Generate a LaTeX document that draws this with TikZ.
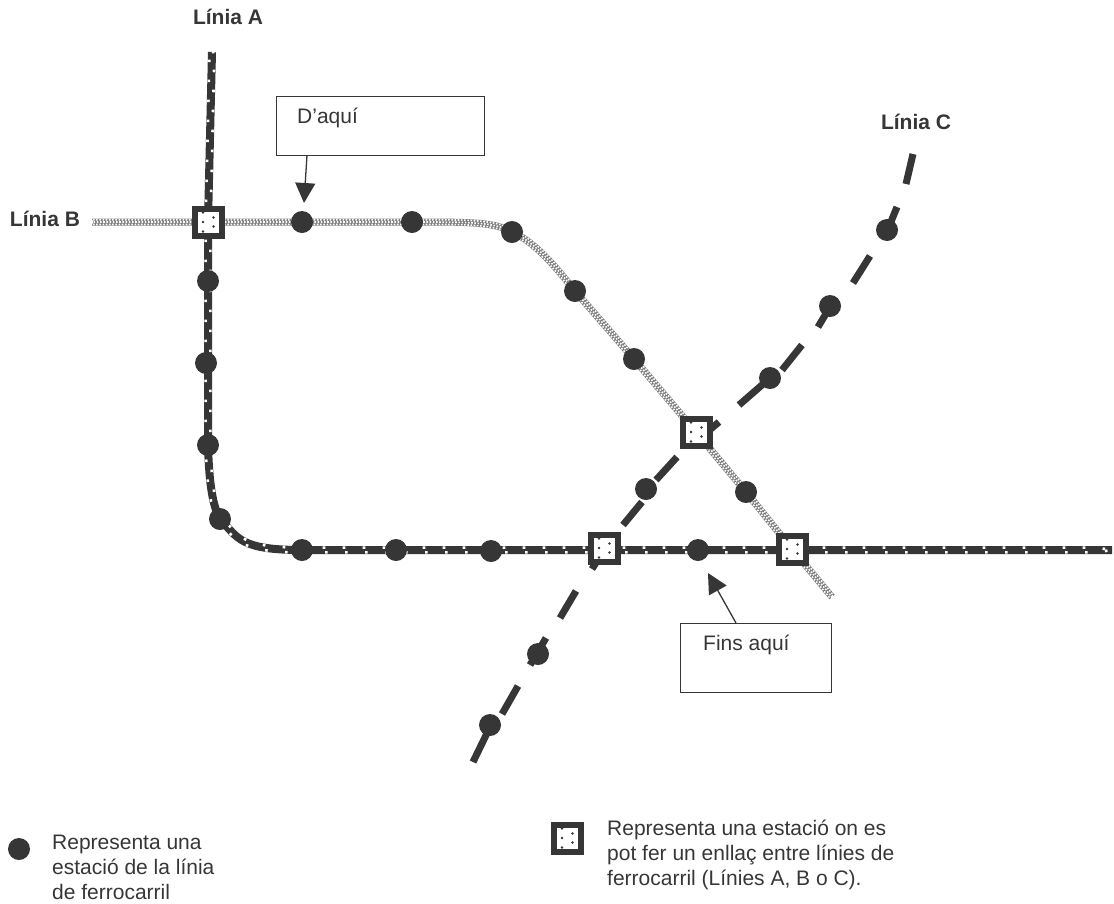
\documentclass[tikz,border=0pt]{standalone}
\usepackage{fontspec}
\setmainfont{Liberation Sans}
\usetikzlibrary{arrows.meta, backgrounds, decorations}
\definecolor{linedark}{HTML}{363636}
\definecolor{linegray}{HTML}{7C7C7C}
\definecolor{bevel}{HTML}{7A6C6C}
\tikzset{
  station/.style = {circle, fill = linedark, minimum size = 22pt, inner sep = 0pt},
  linkstation/.style = {rectangle, draw = linedark, line width = 6pt, fill = white,
    minimum size = 27pt, inner sep = 0pt,
    path picture = {
      \foreach \dy in {-9.5, 0, 9.5}
        \fill[linedark] ([xshift = -5pt, yshift = \dy pt]path picture bounding box.center) circle (1.3pt);
      \foreach \dy in {-4.5, 4.5}
        \fill[linedark] ([xshift = 5.5pt, yshift = \dy pt]path picture bounding box.center) circle (1.3pt);
      \draw[bevel, line width = 2.5pt] (path picture bounding box.south west) -- (path picture bounding box.north west) -- (path picture bounding box.north east);
    }},
  dotrow/.style 2 args = {postaction = {draw = white, line width = 2.6pt,
    dash pattern = on 2.6pt off 17.4pt, dash phase = #2,
    decorate, decoration = {curveto, raise = #1}}},
  checkrow/.style 2 args = {postaction = {draw = white, line width = 1.6pt,
    dash pattern = on 1.6pt off 1.6pt, dash phase = #2,
    decorate, decoration = {curveto, raise = #1}}},
  lineA/.style = {draw = linedark, line width = 8pt, dotrow = {2.4pt}{0pt}, dotrow = {-2.4pt}{10pt}},
  lineB/.style = {draw = linegray, line width = 7pt, checkrow = {2.3pt}{0pt}, checkrow = {0pt}{1.6pt}, checkrow = {-2.3pt}{0pt}},
  lineC/.style = {draw = linedark, line width = 7pt},
  notebox/.style = {rectangle, draw = linedark, line width = 1pt, fill = white},
  notearrow/.style = {draw = linedark, line width = 1.3pt, -{Triangle[length = 20pt, width = 20pt]}},
  linename/.style = {font = \fontsize{21}{24}\selectfont\bfseries, text = linedark},
  legendtext/.style = {font = \fontsize{21}{25}\selectfont, text = linedark, align = left, anchor = north west, inner sep = 0pt}
}
\begin{document}
\begin{tikzpicture}[x = 1pt, y = -1pt]
    \useasboundingbox (0, 0) rectangle (1114, 903);

    % ends of the lines
    \coordinate (A0) at (212, 52);
    \coordinate (B0) at (92, 222);
    \coordinate (A9) at (1112, 550);
    \coordinate (B9) at (832, 597);

    % line C, one pair per dash
    \coordinate (C1) at (473, 762);
    \coordinate (C2) at (490, 727);
    \coordinate (C3) at (502, 714);
    \coordinate (C4) at (518, 686);
    \coordinate (C5) at (530, 665);
    \coordinate (C6) at (546, 638);
    \coordinate (C7) at (560, 618);
    \coordinate (C8) at (576, 591);
    \coordinate (C9) at (592, 569);
    \coordinate (C10) at (602, 553);
    \coordinate (C11) at (623, 525);
    \coordinate (C12) at (642, 502);
    \coordinate (C13) at (656, 480);
    \coordinate (C14) at (677, 457);
    \coordinate (C15) at (700, 438);
    \coordinate (C16) at (719, 422);
    \coordinate (C17) at (739, 405);
    \coordinate (C18) at (770, 378);
    \coordinate (C19) at (782, 370);
    \coordinate (C20) at (802, 345);
    \coordinate (C21) at (818, 327);
    \coordinate (C22) at (830, 307);
    \coordinate (C23) at (853, 283);
    \coordinate (C24) at (870, 256);
    \coordinate (C25) at (888, 229);
    \coordinate (C26) at (897, 207);
    \coordinate (C27) at (906, 184);
    \coordinate (C28) at (913, 154);

    % stations of line A
    \node[station] (a1) at (208, 281) {};
    \node[station] (a2) at (206, 363) {};
    \node[station] (a3) at (208, 445) {};
    \node[station] (a4) at (220, 519) {};
    \node[station] (a5) at (302, 550) {};
    \node[station] (a6) at (396, 550) {};
    \node[station] (a7) at (491, 551) {};
    \node[station] (a8) at (698, 550) {};

    % stations of line B
    \node[station] (b1) at (302, 222) {};
    \node[station] (b2) at (412, 222) {};
    \node[station] (b3) at (512, 232) {};
    \node[station] (b4) at (575, 291) {};
    \node[station] (b5) at (634, 359) {};
    \node[station] (b6) at (746, 492) {};

    % stations of line C
    \node[station] (c1) at (490, 725) {};
    \node[station] (c2) at (538, 654) {};
    \node[station] (c3) at (646, 489) {};
    \node[station] (c4) at (770, 378) {};
    \node[station] (c5) at (830, 306) {};
    \node[station] (c6) at (887, 230) {};

    % stations with a link
    \node[linkstation] (lAB) at (208, 222) {};
    \node[linkstation] (lBC) at (696, 432) {};
    \node[linkstation] (lAC) at (604, 548) {};
    \node[linkstation] (lABb) at (792, 549) {};

    \begin{scope}[on background layer]
      \foreach \from/\to in {C1/C2, C3/C4, C5/C6, C7/C8, C9/C10, C11/C12, C13/C14, C15/C16, C17/C18, C19/C20, C21/C22, C23/C24, C25/C26, C27/C28}
        \draw[lineC] (\from) -- (\to);

      \draw[lineB] (B0) -- (b2.center)
        .. controls (470, 222) and (495, 222) .. (b3.center)
        .. controls (535, 242) and (555, 266) .. (b4.center)
        -- (b5.center) -- (lBC.center) -- (b6.center) -- (lABb.center) -- (B9);

      \draw[lineA] (A0) -- (208, 222) -- (a3.center)
        .. controls (209, 480) and (212, 505) .. (a4.center)
        .. controls (238, 538) and (240, 550) .. (a5.center)
        -- (A9);
    \end{scope}

    % notes
    \node[notebox, minimum width = 208pt, minimum height = 59pt] (from) at (380, 125.5) {};
    \node[notebox, minimum width = 151pt, minimum height = 69pt] (until) at (755.5, 657.5) {};
    \node[legendtext, anchor = west] (fromtext) at (297, 118) {D’aquí};
    \node[legendtext, anchor = west] (untiltext) at (703, 645) {Fins aquí};
    \coordinate (fromstart) at (307, 155);
    \coordinate (fromtip) at (304, 203);
    \coordinate (untilstart) at (736, 623);
    \coordinate (untiltip) at (708, 573);
    \draw[notearrow] (fromstart) -- (fromtip);
    \draw[notearrow] (untilstart) -- (untiltip);

    % names of the lines
    \node[linename] (nameA) at (228, 17) {Línia A};
    \node[linename] (nameB) at (45, 219) {Línia B};
    \node[linename] (nameC) at (916, 122) {Línia C};

    % legend
    \node[station] (legend1) at (19, 849) {};
    \node[legendtext] (legend1text) at (52, 835) {Representa una\\estació de la línia\\de ferrocarril};
    \node[linkstation] (legend2) at (567, 838) {};
    \node[legendtext] (legend2text) at (607, 820) {Representa una estació on es\\pot fer un enllaç entre línies de\\ferrocarril (Línies A, B o C).};
  \end{tikzpicture}
\end{document}
